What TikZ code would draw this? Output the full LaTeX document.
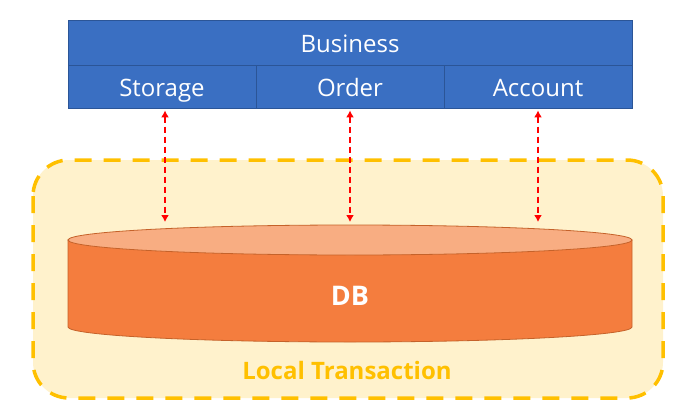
\documentclass[tikz,border=0pt]{standalone}
\usepackage{fontspec}
\setmainfont{Open Sans}
\usetikzlibrary{arrows.meta}
\definecolor{bizblue}{HTML}{3A6FC2}
\definecolor{bizline}{HTML}{2B5597}
\definecolor{txgold}{HTML}{FFC000}
\definecolor{txfill}{HTML}{FFF2CC}
\definecolor{dbside}{HTML}{F47D3E}
\definecolor{dbtop}{HTML}{F8AD82}
\definecolor{dbline}{HTML}{C5622A}
\definecolor{callred}{HTML}{FF0000}
\tikzset{
  cell/.style={draw=bizline, line width=0.8pt, fill=bizblue, text=white,
    inner sep=0pt, text height=24pt, text depth=4pt,
    font=\fontsize{24}{28}\selectfont},
  txframe/.style={draw=txgold, fill=txfill, line width=3.5pt,
    dash pattern=on 17pt off 12pt, rounded corners=36pt},
  call/.style={draw=callred, line width=2pt, dash pattern=on 6pt off 4pt,
    {Latex[length=7pt,width=8pt]}-{Latex[length=7pt,width=8pt]}, shorten <=2pt},
}
\begin{document}
\begin{tikzpicture}[x=1pt,y=-1pt]
\useasboundingbox (0,0) rectangle (700,414);
% local transaction boundary
\path[txframe] (33,160) rectangle (663,398);
\node[text=txgold, font=\bfseries\fontsize{24}{28}\selectfont] (txlabel) at (347,370) {Local Transaction};
% database cylinder
\fill[dbside, draw=dbline, line width=0.8pt] (68,240) -- (68,327)
  arc[start angle=180, end angle=0, x radius=282, y radius=15] -- (632,240) -- cycle;
\draw[dbline, fill=dbtop, line width=0.8pt] (350,240) ellipse [x radius=282, y radius=15];
\node[text=white, font=\bfseries\fontsize{27}{30}\selectfont] (db) at (350,296) {DB};
\coordinate (dbS) at (165,222);
\coordinate (dbO) at (350,222);
\coordinate (dbA) at (538,222);
% business services
\node[cell, minimum width=564pt, minimum height=45pt] (biz) at (350,42.5) {Business};
\node[cell, minimum width=188pt, minimum height=43pt] (sto) at (162,86.5) {Storage};
\node[cell, minimum width=188pt, minimum height=43pt] (ord) at (350,86.5) {Order};
\node[cell, minimum width=188pt, minimum height=43pt] (acc) at (538,86.5) {Account};
% calls into the database
\draw[call] ([xshift=3pt]sto.south) -- (dbS);
\draw[call] (ord.south) -- (dbO);
\draw[call] (acc.south) -- (dbA);
\end{tikzpicture}
\end{document}
